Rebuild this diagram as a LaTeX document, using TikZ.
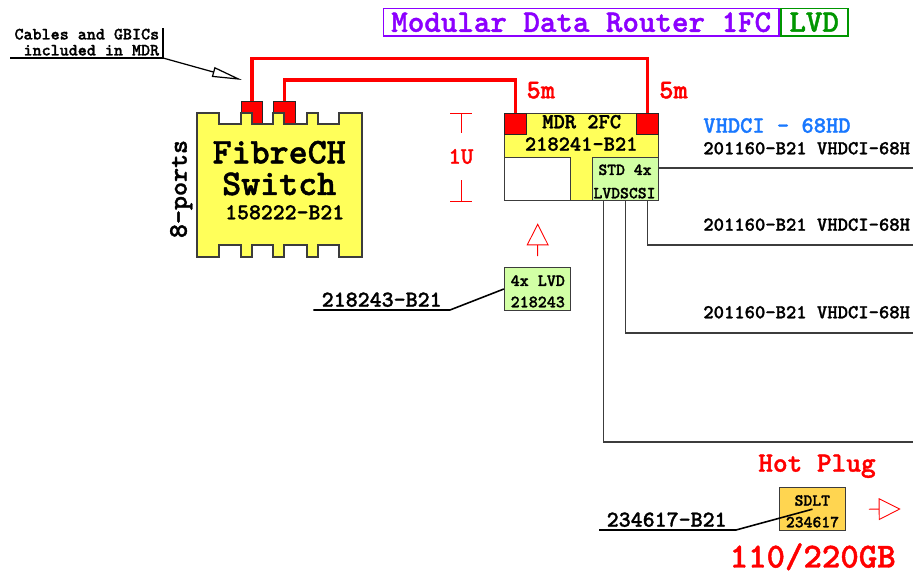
\documentclass[tikz,border=0pt]{standalone}
\usepackage{fontspec}
\setmainfont{lmmonolt10-bold.otf}[FakeBold=1.3]
\usepackage{xcolor}
\usepackage{tikz}
\usetikzlibrary{positioning,arrows.meta}
\definecolor{mdrpurple}{RGB}{140,0,255}
\definecolor{lvdgreen}{RGB}{0,150,0}
\definecolor{swyellow}{RGB}{255,255,90}
\definecolor{cardgreen}{RGB}{210,255,165}
\definecolor{sdltorange}{RGB}{255,213,80}
\definecolor{vhdblue}{RGB}{25,120,255}
\definecolor{edge}{RGB}{60,60,60}
\newcommand{\tsize}[1]{\fontsize{#1}{#1}\selectfont}

\begin{document}
\begin{tikzpicture}[x=0.02cm, y=-0.02cm, inner sep=0pt,
  box/.style={draw=edge, line width=0.6pt},
  card/.style={box, minimum width=1.33cm, minimum height=0.87cm},
  port/.style={draw=black!85, fill=red, line width=0.6pt},
  cable/.style={red, line width=2pt},
  scsi/.style={edge, line width=0.6pt},
  lead/.style={black, line width=0.9pt},
  dim/.style={red, line width=0.5pt},
  hollow/.style={red, line width=0.5pt, -{Triangle[open, length=0.44cm, width=0.44cm]}}]
\useasboundingbox (0,0) rectangle (913,573);
\clip (0,0) rectangle (913,573);

% title
\node[box, draw=mdrpurple, line width=1pt, minimum width=7.91cm, minimum height=0.55cm, text=mdrpurple, font=\tsize{17.9}] (title) at (581.2,22.2) {Modular Data Router 1FC};
\node[box, draw=lvdgreen, line width=1pt, minimum width=1.34cm, minimum height=0.55cm, text=lvdgreen, font=\tsize{17.9}, right=0pt of title] (lvd) {LVD};

% note on the cables
\node[font=\fontsize{9.8}{9.1}\selectfont, align=right, anchor=south east] (note) at (159.5,56) {Cables and GBICs\\included in MDR};
\coordinate (noteL) at (10,58);
\coordinate (noteC) at (163,58);
\coordinate (noteT) at (163,28);
\coordinate (noteTip) at (242,80);
\draw[lead] (noteL) -- (noteC) -- (noteT);
\draw[lead, line width=0.7pt, -{Triangle[open, length=0.6cm, width=0.2cm]}] (noteC) -- (noteTip);

% MDR 2FC
\node[box, fill=swyellow, minimum width=3.09cm, minimum height=1.75cm] (mdr) at (581.35,157.15) {};
\node[port, anchor=north west, minimum width=0.45cm, minimum height=0.43cm] (mdrL) at (mdr.north west) {};
\node[port, anchor=north east, minimum width=0.45cm, minimum height=0.43cm] (mdrR) at (mdr.north east) {};
\node[card, fill=white, anchor=south west] (mdrW) at (mdr.south west) {};
\node[card, fill=cardgreen, anchor=south east] (scsi) at (mdr.south east) {};
\node[anchor=base, font=\tsize{12.2}] (mdrname) at (581.7,128.3) {MDR 2FC};
\node[anchor=base, font=\tsize{12.2}] (mdrpart) at (581.2,150.7) {218241-B21};
\node[anchor=base, font=\tsize{9.6}] (scsi1) at (625,175) {STD 4x};
\node[anchor=base, font=\tsize{9.6}] (scsi2) at (624.5,198.3) {LVDSCSI};

% fibre cables
\node[port, minimum width=0.43cm, minimum height=0.45cm] (sp1) at (251.85,113) {};
\node[port, minimum width=0.45cm, minimum height=0.45cm] (sp2) at (284.65,113) {};
\coordinate (outer) at (0,58.3);
\coordinate (inner) at (0,80);
\draw[cable] (sp1.north) -- (sp1.north |- outer) -| (mdrR.north);
\draw[cable] (sp2.north) -- (sp2.north |- inner) -| (mdrL.north);
\node[anchor=base, text=red, font=\tsize{15.4}] (len1) at (540.8,98.3) {5m};
\node[anchor=base, text=red, font=\tsize{15.4}] (len2) at (673.5,98.3) {5m};

% FibreCH switch
\draw[fill=swyellow, draw=edge, line width=0.6pt] (197,113) -- (219,113) -- (219,124) -- (241,124) -- (241,113) -- (252,113) -- (252,124) -- (273,124) -- (273,113) -- (284,113) -- (284,124) -- (307,124) -- (307,113) -- (318,113) -- (318,124) -- (339,124) -- (339,113) -- (362,113)
  -- (362,257) -- (339,257) -- (339,245) -- (318,245) -- (318,257) -- (307,257) -- (307,245) -- (284,245) -- (284,257) -- (273,257) -- (273,245) -- (252,245) -- (252,257) -- (241,257) -- (241,245) -- (219,245) -- (219,257) -- (197,257) -- cycle;
\node[anchor=base, align=center, font=\fontsize{20.6}{18}\selectfont] (swname) at (279.2,195) {FibreCH\\Switch};
\node[anchor=base, font=\tsize{12.9}] (swpart) at (284.7,219.3) {158222-B21};
\node[anchor=base, rotate=90, font=\tsize{15.2}] (ports) at (186.7,189) {8-ports};

% 1U height
\coordinate (uTop) at (461,113.3);
\coordinate (uBot) at (461,201);
\node[text=red, font=\tsize{13.5}, minimum height=0.94cm] (oneU) at (461,156.5) {1U};
\draw[dim] ([xshift=-0.22cm]uTop) -- ([xshift=0.22cm]uTop);
\draw[dim] ([xshift=-0.22cm]uBot) -- ([xshift=0.22cm]uBot);
\draw[dim] (uTop) -- (oneU.north);
\draw[dim] (oneU.south) -- (uBot);

% SCSI cables
\coordinate (endA) at (920,168);
\coordinate (endB) at (920,245);
\coordinate (endC) at (920,333);
\coordinate (endD) at (920,442);
\draw[scsi] (scsi.east |- endA) -- (endA);
\draw[scsi] ([xshift=0.44cm]scsi.south) |- (endB);
\draw[scsi] (scsi.south) |- (endC);
\draw[scsi] ([xshift=-0.44cm]scsi.south) |- (endD);
\node[anchor=base west, text=vhdblue, font=\tsize{13.3}] (vhd) at (703,132.7) {VHDCI - 68HD};
\node[anchor=base west, font=\tsize{11.2}] (cabA) at (703,154.3) {201160-B21 VHDCI-68H};
\node[anchor=base west, font=\tsize{11.2}] (cabB) at (703,230.7) {201160-B21 VHDCI-68H};
\node[anchor=base west, font=\tsize{11.2}] (cabC) at (703,318.3) {201160-B21 VHDCI-68H};

% 4x LVD card
\node[card, fill=cardgreen] (lvdcard) at (537.65,289) {};
\node[anchor=base, font=\tsize{9.8}] (lvd1) at (537.8,286) {4x LVD};
\node[anchor=base, font=\tsize{9.8}] (lvd2) at (537.8,307.3) {218243};
\coordinate (upTip) at (537.7,223.3);
\draw[hollow] ([yshift=0.21cm]lvdcard.north) -- (upTip);
\node[anchor=base, font=\tsize{13}] (lvdpart) at (381.7,306.7) {218243-B21};
\coordinate (lvdL) at (313.3,310);
\coordinate (lvdK) at (450,310);
\draw[lead] (lvdL) -- (lvdK) -- (lvdcard.west);

% SDLT drive
\node[anchor=base, text=red, font=\tsize{15.9}] (hot) at (817,471.7) {Hot Plug};
\node[card, fill=sdltorange] (sdlt) at (812.5,509.2) {};
\node[anchor=base, font=\tsize{9.6}] (sdlt1) at (812.3,505.7) {SDLT};
\node[anchor=base, font=\tsize{9.6}] (sdlt2) at (812.5,527.3) {234617};
\node[anchor=base, font=\tsize{13}] (sdltpart) at (666.7,526.7) {234617-B21};
\coordinate (sdlL) at (599,530);
\coordinate (sdlK) at (736,530);
\draw[lead] (sdlL) -- (sdlK) -- (sdlt.center);
\coordinate (rtTip) at (900.7,509);
\draw[hollow] ([xshift=0.45cm]sdlt.east) -- (rtTip);
\node[anchor=base, text=red, font=\tsize{20}] (cap) at (812.7,567.5) {110/220GB};
\end{tikzpicture}
\end{document}
